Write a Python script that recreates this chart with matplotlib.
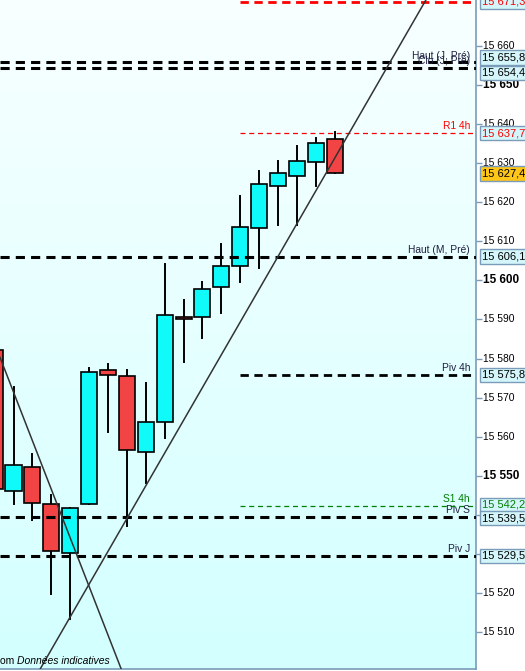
import matplotlib.pyplot as plt
import numpy as np
from matplotlib.colors import LinearSegmentedColormap

plt.rcParams['font.family'] = ['Liberation Sans', 'DejaVu Sans']

# bougies (OHLC)
opens  = [15582.3, 15546.2, 15552.2, 15542.7, 15530.2, 15542.7, 15577.1, 15575.4, 15556.1, 15563.8,
          15590.7, 15590.7, 15598.4, 15603.8, 15613.3, 15624.3, 15626.8, 15630.2, 15636.3]
highs  = [15582.3, 15572.8, 15555.6, 15545.1, 15541.7, 15577.6, 15578.6, 15577.1, 15573.8, 15604.3,
          15594.9, 15599.7, 15609.4, 15621.7, 15627.9, 15630.5, 15634.4, 15636.4, 15637.9]
lows   = [15540.0, 15542.7, 15538.6, 15519.7, 15513.3, 15542.7, 15561.1, 15537.0, 15548.0, 15559.6,
          15579.0, 15585.2, 15591.7, 15599.6, 15603.2, 15614.2, 15614.2, 15624.2, 15627.4]
closes = [15546.7, 15552.7, 15543.0, 15530.6, 15541.7, 15576.6, 15575.9, 15556.7, 15563.8, 15591.2,
          15590.1, 15597.9, 15603.8, 15613.8, 15624.8, 15627.4, 15630.7, 15635.3, 15627.4]

# niveaux horizontaux
level_values = [15671.3, 15655.8, 15654.4, 15637.7, 15606.1, 15575.8, 15542.2, 15539.5, 15529.5]
level_names  = ['', 'Haut (J, Pré)', 'Clo (J, Pré)', 'R1 4h', 'Haut (M, Pré)', 'Piv 4h', 'S1 4h', 'Piv S', 'Piv J']
level_colors = ['#ff0000', 'black', 'black', '#ff0000', 'black', 'black', '#008000', 'black', 'black']
level_start  = [13, None, None, 13, None, 13, 13, None, None]
level_lw     = [2.0, 2.2, 2.2, 0.9, 2.2, 2.0, 0.9, 2.2, 2.2]
box_shift    = [0, 3.6, -3.6, 0, 0, 0, 1, -1, 0]   # decalage vertical des etiquettes (pt)
last_price = 15627.4

# droites de tendance (deux points chacune)
trend_up = [(12.13, 15582.05), (19.77, 15646.15)]
trend_down = [(0.284, 15580.3), (6.74, 15500.0)]

yticks = np.arange(15510, 15661, 10)

fig = plt.figure(figsize=(5.25, 6.71), dpi=100)
fig.patch.set_facecolor('white')
ax = fig.add_axes([0, 2 / 671, 476 / 525, 669 / 671])

ymin, ymax = 15500.5, 15671.8
xmin, xmax = 0.284, 25.48
ax.set_xlim(xmin, xmax)
ax.set_ylim(ymin, ymax)

# fond degrade
cmap = LinearSegmentedColormap.from_list('bg', ['#d3ffff', '#e6ffff', '#f8ffff'])
grad = np.linspace(0, 1, 256).reshape(-1, 1)
ax.imshow(grad, cmap=cmap, origin='lower', aspect='auto', extent=[0, 1, 0, 1],
          transform=ax.transAxes, zorder=0)

# bougies
w = 0.85
for i in range(len(opens)):
    o, h, l, c = opens[i], highs[i], lows[i], closes[i]
    col = '#10fafa' if c >= o else '#f24444'
    ax.plot([i, i], [l, h], color='black', lw=1.4, zorder=2)
    ax.add_patch(plt.Rectangle((i - w / 2, min(o, c)), w, max(abs(c - o), 0.5),
                               facecolor=col, edgecolor='black', lw=1.2, zorder=3))

# niveaux
ytr = ax.get_yaxis_transform()
for v, name, col, st, lw in zip(level_values, level_names, level_colors, level_start, level_lw):
    x0 = st if st is not None else xmin
    if lw > 1.5:
        ax.plot([x0, xmax], [v, v], color=col, lw=lw, dashes=(3, 2), zorder=4)
    else:
        ax.plot([x0, xmax], [v, v], color=col, lw=lw, dashes=(4, 3), zorder=4)
    if name:
        tcol = col if col != 'black' else '#202040'
        ax.text(470 / 476, v + 0.5, name, transform=ytr,
                ha='right', va='bottom', fontsize=7.4, color=tcol, zorder=5)

# droites
for pts in (trend_up, trend_down):
    ax.axline(pts[0], pts[1], color='#333333', lw=1.1, zorder=4)

# axe de droite
ax.yaxis.tick_right()
ax.set_yticks(yticks)
ax.set_yticklabels([])
ax.tick_params(axis='y', direction='out', length=4, color='#7a9cb8', width=1)
ax.set_xticks([])
for t in yticks:
    bold = t % 50 == 0
    ax.text(483 / 476, t, f'{t // 1000} {t % 1000:03d}', transform=ytr,
            ha='left', va='center', fontsize=8.5 if bold else 7.4,
            fontweight='bold' if bold else 'normal', color='black', clip_on=False)

def fmt(v):
    s = f'{v:.1f}'.replace('.', ',')
    return s[:2] + ' ' + s[2:]

for v, col, dy in zip(level_values, level_colors, box_shift):
    ax.annotate(fmt(v), xy=(482 / 476, v), xycoords=ytr, xytext=(0, dy),
                textcoords='offset points', ha='left', va='center',
                fontsize=8, color=col, annotation_clip=False, zorder=6,
                bbox=dict(boxstyle='square,pad=0.2', facecolor='#d4f6fa', edgecolor='#7a9cb8', lw=1))
ax.text(482 / 476, last_price, fmt(last_price), transform=ytr, ha='left',
        va='center', fontsize=8, color='black', clip_on=False, zorder=6,
        bbox=dict(boxstyle='square,pad=0.2', facecolor='#ffc61a', edgecolor='#7a9cb8', lw=1))

for s in ['top', 'left']:
    ax.spines[s].set_visible(False)
for s in ['right', 'bottom']:
    ax.spines[s].set_color('#7a9cb8')
    ax.spines[s].set_linewidth(1.2)

ax.text(0.0, 0.004, 'om ', transform=ax.transAxes, fontsize=7.5, ha='left', va='bottom', zorder=6)
ax.text(17 / 476, 0.004, 'Données indicatives', transform=ax.transAxes, fontsize=7.5,
        style='italic', ha='left', va='bottom', zorder=6)

fig.savefig('out.png', dpi=100)
